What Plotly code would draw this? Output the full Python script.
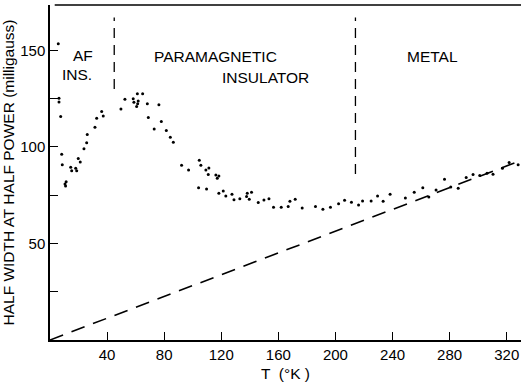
import plotly.graph_objects as go

# Measured half width data (T in K, half width in milligauss)
T_K = [5.8, 6.3, 6.3, 7.5, 8.2, 8.6, 10.5, 11.3, 10.9, 14.5, 15.2, 18.0, 18.7, 19.8, 21.2,
       23.8, 25.7, 26.1, 31.5, 32.7, 36.2, 37.3, 49.7, 52.5, 58.3, 58.8, 60.7, 61.4, 61.8,
       61.2, 64.9, 68.2, 68.9, 73.0, 76.3, 78.0, 81.5, 84.3, 86.4, 92.2, 97.1, 104.1, 104.6,
       105.7, 109.2, 109.7, 110.9, 111.3, 116.2, 117.2, 118.3, 118.3, 121.4, 123.2, 127.5,
       128.9, 133.0, 137.7, 138.2, 139.6, 141.2, 145.9, 149.9, 153.4, 156.6, 162.0, 166.9,
       168.1, 171.8, 176.7, 186.0, 191.2, 196.5, 202.2, 206.4, 211.2, 216.2, 219.0, 225.0,
       229.5, 233.4, 238.3, 249.0, 255.2, 261.2, 265.4, 270.5, 276.4, 280.8, 286.0, 291.6,
       296.4, 301.1, 306.2, 310.4, 317.0, 321.7, 328.0]
HALF_WIDTH = [153.4, 125.2, 123.2, 115.7, 96.2, 90.7, 80.8, 81.9, 79.8, 89.5, 87.7, 89.0, 87.7,
              94.0, 92.2, 99.0, 102.2, 106.4, 110.2, 114.8, 118.3, 116.0, 119.7, 124.7, 124.9,
              123.1, 120.9, 122.3, 123.8, 127.6, 127.6, 122.4, 115.2, 109.3, 121.8, 113.2,
              108.5, 105.0, 102.4, 90.5, 88.1, 78.8, 93.1, 90.5, 88.1, 78.2, 85.7, 89.1, 85.5,
              83.8, 85.0, 76.0, 77.2, 74.6, 75.5, 72.7, 73.1, 74.3, 76.0, 72.9, 76.5, 71.2,
              72.5, 73.1, 68.7, 68.7, 69.1, 71.8, 72.9, 68.4, 69.2, 67.7, 68.7, 70.6, 72.4,
              71.3, 69.9, 72.0, 72.0, 74.6, 71.8, 75.5, 73.6, 76.5, 78.8, 74.1, 77.7, 83.2,
              79.3, 78.6, 84.1, 85.7, 85.2, 86.4, 85.9, 89.0, 91.9, 90.7]

# Linear (metallic) reference line
LINE_T = [0, 330]
LINE_HW = [0, 93]

# Phase boundaries (T) and their vertical extents
BOUNDARY_T = [45, 214]
BOUNDARY_LOW = [130, 86]
BOUNDARY_HIGH = [167, 167]

# Region labels
LABELS = ["AF", "INS.", "PARAMAGNETIC", "INSULATOR", "METAL"]
LABEL_T = [23, 19, 116, 151, 268]
LABEL_HW = [142.5, 142.5, 147, 136, 147]
LABEL_YANCHOR = ["bottom", "top", "middle", "middle", "middle"]

X_TICKS = [40, 80, 120, 160, 200, 240, 280, 320]
Y_TICKS = [25, 50, 75, 100, 125, 150]
Y_TICKTEXT = ["", "50", "", "100", "", "150"]

FONT = "Liberation Sans, Arial, sans-serif"

fig = go.Figure()

fig.add_trace(go.Scatter(x=LINE_T, y=LINE_HW, mode="lines",
                         line=dict(color="black", width=1.6, dash="14px,9px"),
                         hoverinfo="skip", showlegend=False))

for bt, lo, hi in zip(BOUNDARY_T, BOUNDARY_LOW, BOUNDARY_HIGH):
    fig.add_trace(go.Scatter(x=[bt, bt], y=[lo, hi], mode="lines",
                             line=dict(color="black", width=1.3, dash="10px,7px"),
                             hoverinfo="skip", showlegend=False))

fig.add_trace(go.Scatter(x=T_K, y=HALF_WIDTH, mode="markers",
                         marker=dict(color="black", size=3),
                         showlegend=False))

for txt, tx, ty, ya in zip(LABELS, LABEL_T, LABEL_HW, LABEL_YANCHOR):
    fig.add_annotation(x=tx, y=ty, text=txt, showarrow=False,
                       font=dict(family=FONT, size=15.5, color="black"),
                       xanchor="center", yanchor=ya, borderpad=0)

fig.add_shape(type="line", xref="paper", yref="paper", x0=0.01, x1=1, y0=1, y1=1,
              line=dict(color="black", width=1.5))

fig.update_layout(
    width=525, height=389,
    margin=dict(l=50, r=4, t=5, b=49),
    paper_bgcolor="white", plot_bgcolor="white",
    font=dict(family=FONT, color="black"),
    xaxis=dict(range=[0, 330], tickvals=X_TICKS, ticks="inside", ticklen=8,
               tickwidth=1.3, tickcolor="black", showline=True, linecolor="black",
               linewidth=1.5, showgrid=False, zeroline=False,
               tickfont=dict(size=15),
               title=dict(text="T  (°K )", font=dict(size=15.5), standoff=6)),
    yaxis=dict(range=[0, 173.5], tickvals=Y_TICKS, ticktext=Y_TICKTEXT, ticks="inside",
               ticklen=8, tickwidth=1.3, tickcolor="black", showline=True,
               linecolor="black", linewidth=1.5, showgrid=False, zeroline=False,
               tickfont=dict(size=15),
               title=dict(text="HALF WIDTH AT HALF POWER (milligauss)",
                          font=dict(size=15.5), standoff=2)),
)

fig.write_html("out.html")
